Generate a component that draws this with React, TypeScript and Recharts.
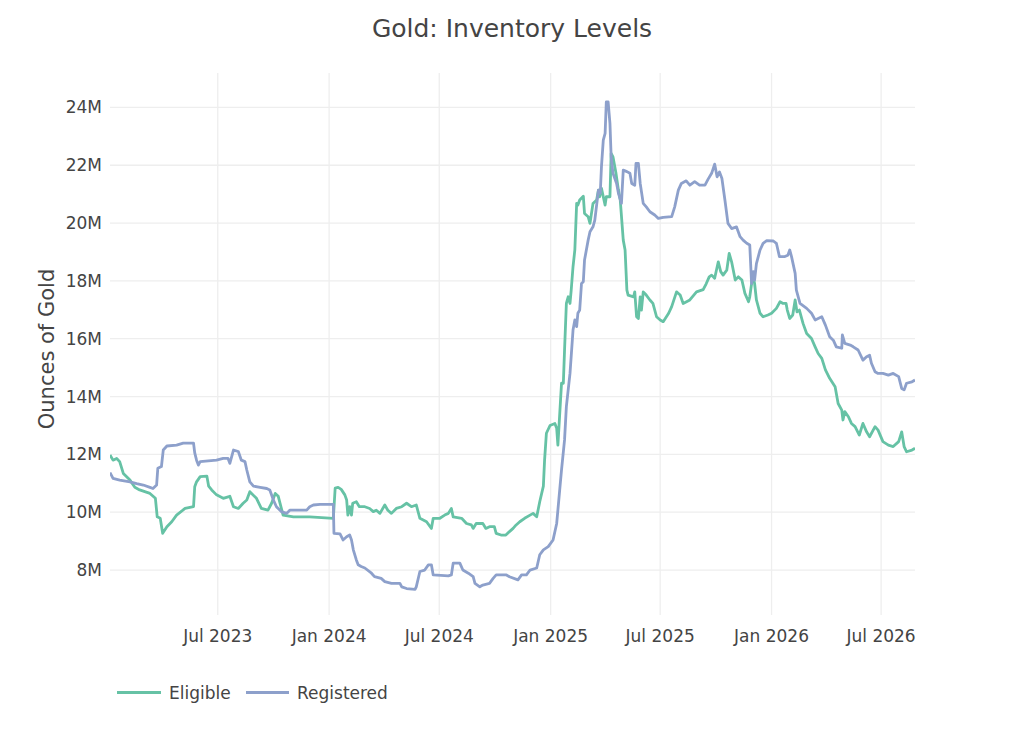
import { LineChart, Line, XAxis, YAxis, CartesianGrid } from 'recharts';

// Values are millions of troy ounces.
const eligibleDates = [
  '2023-01-04', '2023-01-09', '2023-01-15', '2023-01-20', '2023-01-26', '2023-02-06', '2023-02-14', '2023-02-22',
  '2023-03-11', '2023-03-20', '2023-03-23', '2023-03-28', '2023-04-01', '2023-04-08', '2023-04-16', '2023-04-24',
  '2023-05-08', '2023-05-22', '2023-05-24', '2023-05-27', '2023-06-02', '2023-06-13', '2023-06-16', '2023-06-21',
  '2023-06-29', '2023-07-10', '2023-07-21', '2023-07-27', '2023-08-04', '2023-08-12', '2023-08-18', '2023-08-23',
  '2023-09-03', '2023-09-11', '2023-09-22', '2023-09-28', '2023-10-04', '2023-10-09', '2023-10-17', '2023-11-03',
  '2023-11-30', '2024-01-08', '2024-01-11', '2024-01-16', '2024-01-21', '2024-01-27', '2024-01-30', '2024-02-01',
  '2024-02-04', '2024-02-07', '2024-02-09', '2024-02-15', '2024-02-20', '2024-02-29', '2024-03-08', '2024-03-14',
  '2024-03-19', '2024-03-25', '2024-04-02', '2024-04-07', '2024-04-13', '2024-04-21', '2024-04-30', '2024-05-08',
  '2024-05-16', '2024-05-24', '2024-05-30', '2024-06-10', '2024-06-18', '2024-06-21', '2024-07-02', '2024-07-10',
  '2024-07-16', '2024-07-21', '2024-07-24', '2024-08-07', '2024-08-15', '2024-08-23', '2024-08-26', '2024-08-31',
  '2024-09-11', '2024-09-16', '2024-09-22', '2024-09-30', '2024-10-03', '2024-10-11', '2024-10-19', '2024-10-25',
  '2024-10-31', '2024-11-05', '2024-11-11', '2024-11-19', '2024-11-28', '2024-12-03', '2024-12-09', '2024-12-14',
  '2024-12-20', '2024-12-22', '2024-12-25', '2024-12-31', '2025-01-08', '2025-01-11', '2025-01-13', '2025-01-19',
  '2025-01-22', '2025-01-24', '2025-01-27', '2025-01-30', '2025-02-02', '2025-02-04', '2025-02-07', '2025-02-10',
  '2025-02-13', '2025-02-15', '2025-02-18', '2025-02-24', '2025-02-26', '2025-03-04', '2025-03-07', '2025-03-12',
  '2025-03-18', '2025-03-21', '2025-03-23', '2025-03-26', '2025-04-01', '2025-04-03', '2025-04-09', '2025-04-11',
  '2025-04-14', '2025-04-19', '2025-04-23', '2025-04-26', '2025-05-01', '2025-05-04', '2025-05-07', '2025-05-09',
  '2025-05-18', '2025-05-20', '2025-05-23', '2025-05-26', '2025-05-29', '2025-05-31', '2025-06-03', '2025-06-08',
  '2025-06-14', '2025-06-19', '2025-06-25', '2025-07-01', '2025-07-06', '2025-07-15', '2025-07-20', '2025-07-28',
  '2025-08-03', '2025-08-08', '2025-08-19', '2025-08-30', '2025-09-10', '2025-09-15', '2025-09-20', '2025-09-24',
  '2025-09-29', '2025-10-05', '2025-10-09', '2025-10-13', '2025-10-19', '2025-10-23', '2025-10-27', '2025-11-02',
  '2025-11-07', '2025-11-13', '2025-11-18', '2025-11-24', '2025-11-26', '2025-12-01', '2025-12-04', '2025-12-07',
  '2025-12-13', '2025-12-18', '2025-12-26', '2026-01-01', '2026-01-09', '2026-01-15', '2026-01-20', '2026-01-25',
  '2026-01-27', '2026-01-31', '2026-02-05', '2026-02-09', '2026-02-12', '2026-02-16', '2026-02-22', '2026-02-28',
  '2026-03-08', '2026-03-14', '2026-03-19', '2026-03-25', '2026-03-31', '2026-04-07', '2026-04-16', '2026-04-21',
  '2026-04-27', '2026-04-29', '2026-05-02', '2026-05-08', '2026-05-13', '2026-05-19', '2026-05-26', '2026-06-01',
  '2026-06-07', '2026-06-12', '2026-06-21', '2026-06-26', '2026-07-04', '2026-07-13', '2026-07-21', '2026-07-30',
  '2026-08-04', '2026-08-08', '2026-08-12', '2026-08-21', '2026-08-26',
];
const eligibleValues = [
  11.98, 11.8, 11.86, 11.75, 11.34, 11.11, 10.86, 10.77,
  10.65, 10.48, 9.84, 9.79, 9.27, 9.5, 9.67, 9.9,
  10.13, 10.19, 10.88, 11.05, 11.23, 11.25, 10.9, 10.77,
  10.6, 10.48, 10.55, 10.19, 10.13, 10.31, 10.42, 10.71,
  10.48, 10.13, 10.07, 10.31, 10.65, 10.55, 9.9, 9.84,
  9.84, 9.79, 10.83, 10.86, 10.79, 10.6, 10.42, 9.9,
  10.19, 9.9, 10.31, 10.36, 10.19, 10.19, 10.13, 10.02,
  10.07, 9.96, 10.25, 10.07, 9.96, 10.13, 10.19, 10.31,
  10.19, 10.25, 9.79, 9.67, 9.44, 9.79, 9.79, 9.9,
  9.96, 10.13, 9.84, 9.79, 9.61, 9.56, 9.44, 9.61,
  9.61, 9.44, 9.5, 9.5, 9.27, 9.21, 9.21, 9.33,
  9.44, 9.56, 9.67, 9.79, 9.9, 9.96, 9.84, 10.36,
  10.9, 11.8, 12.73, 13.0, 13.07, 12.9, 12.32, 14.46,
  14.46, 15.61, 17.22, 17.45, 17.22, 17.68, 18.49, 19.07,
  20.68, 20.62, 20.8, 20.93, 20.33, 20.22, 19.99, 20.68,
  20.8, 21.14, 20.91, 21.2, 20.62, 20.91, 20.91, 22.41,
  22.29, 21.72, 21.14, 20.8, 19.41, 19.07, 17.68, 17.51,
  17.45, 17.62, 16.76, 16.7, 17.45, 16.99, 17.62, 17.51,
  17.34, 17.22, 16.76, 16.65, 16.59, 16.88, 17.11, 17.62,
  17.51, 17.22, 17.34, 17.62, 17.7, 17.9, 18.14, 18.2,
  18.09, 18.66, 18.32, 18.2, 18.37, 18.95, 18.66, 18.03,
  18.14, 18.03, 17.57, 17.28, 17.45, 18.2, 17.91, 17.34,
  16.88, 16.76, 16.82, 16.88, 17.05, 17.28, 17.22, 17.22,
  16.99, 16.7, 16.82, 17.34, 16.93, 16.99, 16.53, 16.18,
  16.01, 15.72, 15.49, 15.32, 14.92, 14.63, 14.34, 13.76,
  13.53, 13.19, 13.48, 13.3, 13.07, 12.96, 12.67, 13.07,
  12.78, 12.61, 12.96, 12.84, 12.44, 12.32, 12.27, 12.44,
  12.78, 12.27, 12.09, 12.15, 12.21,
];

const registeredDates = [
  '2023-01-04', '2023-01-09', '2023-01-20', '2023-02-06', '2023-02-17', '2023-02-28', '2023-03-11', '2023-03-16',
  '2023-03-22', '2023-03-24', '2023-03-30', '2023-04-02', '2023-04-08', '2023-04-24', '2023-05-05', '2023-05-22',
  '2023-05-24', '2023-05-27', '2023-05-30', '2023-06-02', '2023-06-29', '2023-07-10', '2023-07-18', '2023-07-21',
  '2023-07-27', '2023-08-04', '2023-08-09', '2023-08-15', '2023-08-18', '2023-08-23', '2023-08-29', '2023-09-09',
  '2023-09-20', '2023-09-25', '2023-10-01', '2023-10-06', '2023-10-14', '2023-10-23', '2023-10-28', '2023-11-25',
  '2023-11-30', '2023-12-06', '2023-12-17', '2024-01-08', '2024-01-09', '2024-01-19', '2024-01-24', '2024-01-30',
  '2024-02-04', '2024-02-07', '2024-02-10', '2024-02-15', '2024-02-18', '2024-02-23', '2024-02-29', '2024-03-11',
  '2024-03-16', '2024-03-27', '2024-04-02', '2024-04-13', '2024-04-27', '2024-04-30', '2024-05-08', '2024-05-22',
  '2024-05-24', '2024-05-30', '2024-06-07', '2024-06-13', '2024-06-18', '2024-06-21', '2024-07-16', '2024-07-21',
  '2024-07-24', '2024-08-04', '2024-08-09', '2024-08-18', '2024-08-26', '2024-08-29', '2024-09-06', '2024-09-11',
  '2024-09-22', '2024-09-28', '2024-10-03', '2024-10-20', '2024-10-25', '2024-11-08', '2024-11-14', '2024-11-22',
  '2024-11-28', '2024-12-09', '2024-12-14', '2024-12-20', '2024-12-28', '2025-01-05', '2025-01-11', '2025-01-16',
  '2025-01-19', '2025-01-24', '2025-01-27', '2025-02-02', '2025-02-07', '2025-02-10', '2025-02-13', '2025-02-15',
  '2025-02-18', '2025-02-21', '2025-02-24', '2025-02-26', '2025-03-04', '2025-03-07', '2025-03-12', '2025-03-15',
  '2025-03-21', '2025-03-24', '2025-03-26', '2025-03-29', '2025-04-01', '2025-04-03', '2025-04-06', '2025-04-09',
  '2025-04-11', '2025-04-14', '2025-04-20', '2025-04-23', '2025-04-28', '2025-05-01', '2025-05-07', '2025-05-12',
  '2025-05-15', '2025-05-20', '2025-05-22', '2025-05-26', '2025-05-29', '2025-06-03', '2025-06-08', '2025-06-14',
  '2025-06-22', '2025-06-28', '2025-07-06', '2025-07-20', '2025-07-25', '2025-07-31', '2025-08-05', '2025-08-13',
  '2025-08-19', '2025-08-27', '2025-09-04', '2025-09-13', '2025-09-18', '2025-09-24', '2025-09-29', '2025-10-03',
  '2025-10-07', '2025-10-11', '2025-10-16', '2025-10-21', '2025-10-27', '2025-11-04', '2025-11-10', '2025-11-15',
  '2025-11-21', '2025-11-26', '2025-11-29', '2025-12-02', '2025-12-04', '2025-12-07', '2025-12-13', '2025-12-18',
  '2025-12-24', '2026-01-04', '2026-01-09', '2026-01-14', '2026-01-23', '2026-01-28', '2026-01-31', '2026-02-03',
  '2026-02-09', '2026-02-11', '2026-02-17', '2026-02-28', '2026-03-08', '2026-03-14', '2026-03-19', '2026-03-25',
  '2026-03-31', '2026-04-07', '2026-04-13', '2026-04-18', '2026-04-27', '2026-04-28', '2026-05-02', '2026-05-11',
  '2026-05-16', '2026-05-24', '2026-06-01', '2026-06-07', '2026-06-12', '2026-06-15', '2026-06-21', '2026-06-26',
  '2026-07-04', '2026-07-13', '2026-07-21', '2026-07-30', '2026-08-04', '2026-08-08', '2026-08-12', '2026-08-21',
  '2026-08-26',
];
const registeredValues = [
  11.37, 11.17, 11.11, 11.05, 10.99, 10.94, 10.86, 10.82,
  10.94, 11.52, 11.58, 12.15, 12.29, 12.32, 12.39, 12.39,
  12.05, 11.8, 11.63, 11.75, 11.8, 11.86, 11.86, 11.69,
  12.15, 12.1, 11.8, 11.75, 11.46, 11.05, 10.9, 10.86,
  10.82, 10.77, 10.42, 10.19, 10.02, 9.96, 10.07, 10.07,
  10.19, 10.25, 10.27, 10.27, 9.27, 9.25, 9.04, 9.15,
  9.21, 9.04, 8.7, 8.35, 8.18, 8.12, 8.07, 7.89,
  7.77, 7.71, 7.6, 7.54, 7.54, 7.42, 7.36, 7.33,
  7.42, 7.95, 8.0, 8.18, 8.18, 7.83, 7.8, 7.83,
  8.24, 8.24, 8.0, 7.89, 7.77, 7.54, 7.42, 7.48,
  7.54, 7.71, 7.83, 7.83, 7.77, 7.66, 7.83, 7.83,
  8.0, 8.07, 8.53, 8.7, 8.81, 9.04, 9.61, 10.77,
  11.46, 12.5, 13.65, 14.8, 16.3, 16.65, 16.42, 16.88,
  16.99, 17.91, 17.97, 18.72, 19.41, 19.7, 19.87, 20.1,
  21.14, 21.03, 21.95, 22.87, 23.1, 24.19, 24.19, 23.45,
  22.29, 21.72, 21.37, 21.03, 20.68, 21.83, 21.78, 21.72,
  21.37, 21.31, 22.06, 22.06, 21.37, 20.68, 20.56, 20.39,
  20.28, 20.16, 20.2, 20.22, 20.56, 21.14, 21.37, 21.46,
  21.31, 21.43, 21.31, 21.31, 21.51, 21.72, 22.04, 21.6,
  21.77, 21.54, 20.79, 19.99, 19.81, 19.87, 19.53, 19.41,
  19.3, 19.24, 17.91, 18.32, 18.03, 18.6, 19.07, 19.3,
  19.39, 19.38, 19.3, 18.84, 18.84, 18.89, 19.07, 18.84,
  18.26, 17.68, 17.22, 17.05, 16.88, 16.65, 16.7, 16.76,
  16.47, 16.07, 15.95, 15.72, 15.67, 16.13, 15.84, 15.78,
  15.72, 15.61, 15.26, 15.38, 15.43, 15.15, 14.86, 14.8,
  14.8, 14.74, 14.8, 14.69, 14.28, 14.23, 14.46, 14.51,
  14.57,
];

const xTickDates = ['2023-07-01', '2024-01-01', '2024-07-01', '2025-01-01', '2025-07-01', '2026-01-01', '2026-07-01'];
const xTickLabels = ['Jul 2023', 'Jan 2024', 'Jul 2024', 'Jan 2025', 'Jul 2025', 'Jan 2026', 'Jul 2026'];
const yTicks = [8, 10, 12, 14, 16, 18, 20, 22, 24];

const xStart = '2023-01-04';
const xEnd = '2026-08-26';

const ELIGIBLE = '#66c2a5';
const REGISTERED = '#8da0cb';
const TEXT = '#444444';
const FONT = '"DejaVu Sans", Verdana, sans-serif';

const toPoints = (dates: string[], values: number[]) =>
  dates.map((d, i) => ({ t: Date.parse(d), v: values[i] }));

const eligibleData = toPoints(eligibleDates, eligibleValues);
const registeredData = toPoints(registeredDates, registeredValues);
const xTicks = xTickDates.map((d) => Date.parse(d));

function formatXTick(t: number): string {
  const i = xTicks.indexOf(t);
  return i >= 0 ? xTickLabels[i] : '';
}

export default function App() {
  return (
    <div style={{ position: 'absolute', left: 0, top: 0, width: 1024, height: 731, background: '#fff', fontFamily: FONT }}>
      <LineChart
        width={1024}
        height={731}
        margin={{ top: 73, right: 109, bottom: 86, left: 50 }}
        style={{ fontFamily: FONT }}
      >
        {/* syncWithTicks keeps the grid on the ticks only, no border lines at the plot edges */}
        <CartesianGrid stroke="#eeeeee" strokeWidth={1.3} syncWithTicks />
        <XAxis
          dataKey="t"
          type="number"
          domain={[Date.parse(xStart), Date.parse(xEnd)]}
          allowDataOverflow
          ticks={xTicks}
          tickFormatter={formatXTick}
          height={30}
          axisLine={false}
          tickLine={false}
          tickSize={0}
          tickMargin={15}
          tick={{ fontSize: 17, fill: TEXT, fontFamily: FONT }}
        />
        <YAxis
          type="number"
          domain={[6.445, 25.19]}
          allowDataOverflow
          ticks={yTicks}
          tickFormatter={(v: number) => `${v}M`}
          width={60}
          axisLine={false}
          tickLine={false}
          tickSize={0}
          tickMargin={8}
          tick={{ fontSize: 17, fill: TEXT, fontFamily: FONT }}
        />
        <Line
          data={eligibleData}
          dataKey="v"
          name="Eligible"
          type="linear"
          stroke={ELIGIBLE}
          strokeWidth={2.8}
          strokeLinejoin="round"
          dot={false}
          isAnimationActive={false}
        />
        <Line
          data={registeredData}
          dataKey="v"
          name="Registered"
          type="linear"
          stroke={REGISTERED}
          strokeWidth={2.8}
          strokeLinejoin="round"
          dot={false}
          isAnimationActive={false}
        />
      </LineChart>

      {/* title, y-axis title and legend sit outside the plot, like plotly's layout */}
      <svg
        width={1024}
        height={731}
        style={{ position: 'absolute', left: 0, top: 0, pointerEvents: 'none', fontFamily: FONT }}
      >
        <text x={512} y={37} textAnchor="middle" fontSize={25} fill={TEXT}>
          Gold: Inventory Levels
        </text>
        <text transform="translate(54,349) rotate(-90)" textAnchor="middle" fontSize={21} fill={TEXT}>
          Ounces of Gold
        </text>
        <line x1={117} y1={692.5} x2={161} y2={692.5} stroke={ELIGIBLE} strokeWidth={2.8} />
        <text x={169} y={699} fontSize={17} fill={TEXT}>Eligible</text>
        <line x1={246} y1={692.5} x2={289} y2={692.5} stroke={REGISTERED} strokeWidth={2.8} />
        <text x={297} y={699} fontSize={17} fill={TEXT}>Registered</text>
      </svg>
    </div>
  );
}
